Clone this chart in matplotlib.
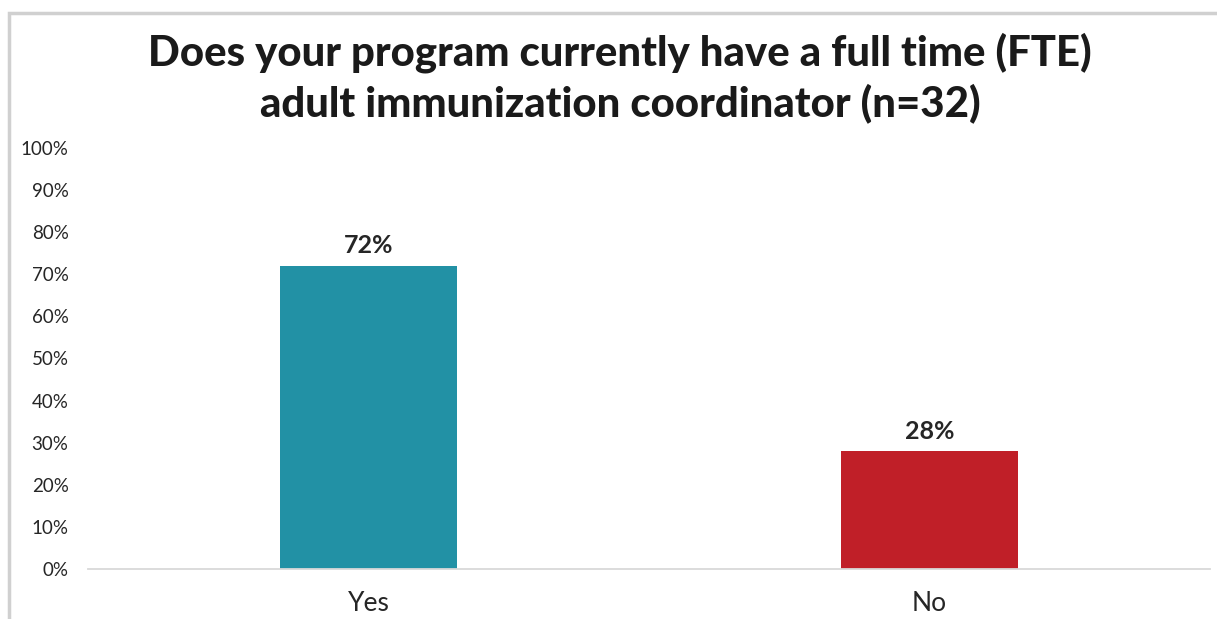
import matplotlib
matplotlib.use("Agg")
import matplotlib.pyplot as plt
from matplotlib.patches import Rectangle

# Datos del gráfico
categories = ["Yes", "No"]
values = [72, 28]
bar_colors = ["#2291A5", "#C01F28"]
y_ticks = list(range(0, 101, 10))
title = "Does your program currently have a full time (FTE)\nadult immunization coordinator (n=32)"

plt.rcParams["font.family"] = ["Lato", "DejaVu Sans"]
text_color = "#262626"

fig = plt.figure(figsize=(12.17, 6.19), dpi=100)
ax = fig.add_axes([0.0723, 0.0808, 0.9219, 0.6801])

x = range(len(categories))
ax.bar(x, values, width=0.314, color=bar_colors)

for xi, v in zip(x, values):
    ax.text(xi, v + 2.0, f"{v}%", ha="center", va="bottom",
            fontsize=18, fontweight="bold", color=text_color)

ax.set_xlim(-0.5, len(categories) - 0.5)
ax.set_ylim(0, 100)
ax.set_yticks(y_ticks)
ax.set_yticklabels([f"{t}%" for t in y_ticks], fontsize=13.5, color=text_color)
ax.set_xticks(list(x))
ax.set_xticklabels(categories, fontsize=19, color=text_color)
ax.tick_params(axis="both", length=0)
ax.tick_params(axis="y", pad=14)
ax.tick_params(axis="x", pad=16)

for side in ["top", "right", "left"]:
    ax.spines[side].set_visible(False)
ax.spines["bottom"].set_color("#D9D9D9")
ax.spines["bottom"].set_linewidth(1.3)

fig.text(0.5094, 0.874, title, ha="center", va="center", fontsize=30.2,
         fontweight="black", color="#1a1a1a", linespacing=1.31)

# Borde del área del gráfico (recortado abajo y a la derecha)
fig.patches.append(Rectangle((9 / 1217, -0.05), 1.1, 1 - 13 / 619 + 0.05,
                             transform=fig.transFigure, fill=False,
                             edgecolor="#D0D0D0", linewidth=2.5))

fig.savefig("out.png", dpi=100)
